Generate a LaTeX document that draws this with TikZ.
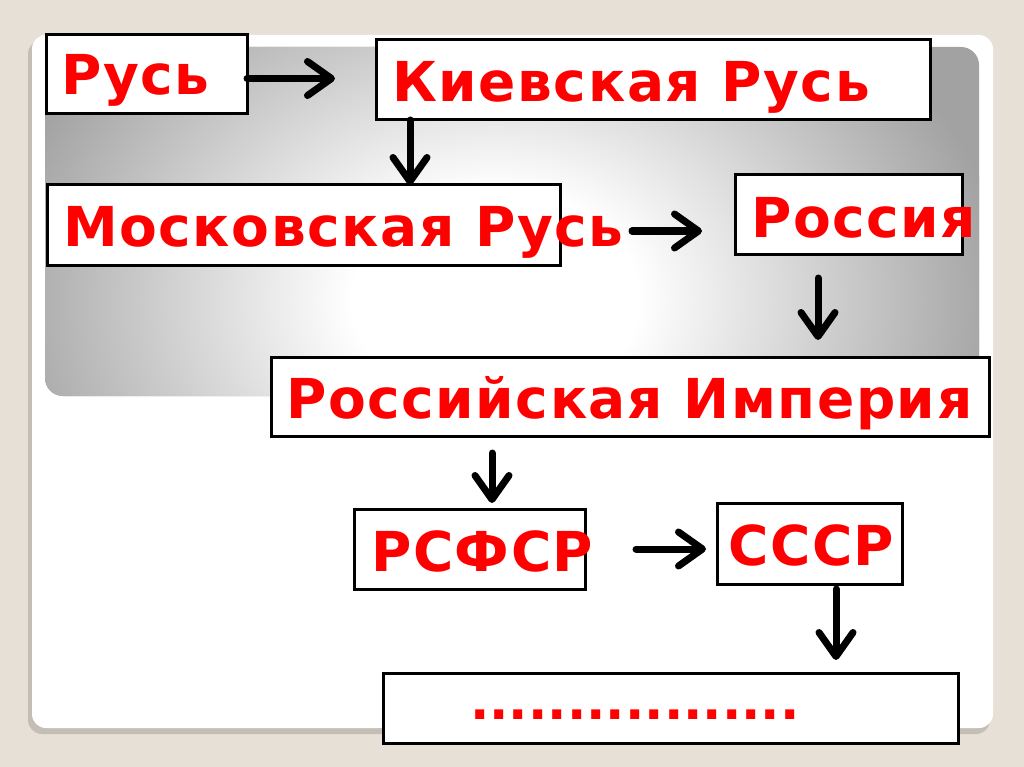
\documentclass[tikz,border=0pt]{standalone}
\usepackage{fontspec}
\setmainfont{DejaVu Sans}
\newfontfamily\lblfont[LetterSpace=2.8]{DejaVu Sans}
\usetikzlibrary{arrows.meta}

\definecolor{slidebg}{HTML}{E6E0D6}
\definecolor{slideshadow}{HTML}{C4BEB4}
\definecolor{panelgray}{HTML}{A2A2A2}
\definecolor{labelred}{HTML}{FF0000}

% heller Fleck in der Mitte, grau zum Rand
\pgfdeclareradialshading{panelglow}{\pgfpoint{0bp}{0bp}}{%
  color(0bp)=(white); color(7bp)=(white);
  color(25bp)=(panelgray); color(50bp)=(panelgray)}

\tikzset{
  box/.style={draw=black, fill=white, line width=3pt, anchor=north west,
    inner sep=0pt, outer sep=0pt},
  lbl/.style={text=labelred, font=\lblfont\fontsize{55}{60}\selectfont\bfseries,
    anchor=base west, inner sep=0pt},
  arr/.style={line width=7pt, line cap=round,
    -{Straight Barb[length=24pt,width=34pt,round]}}
}

\begin{document}
\begin{tikzpicture}[x=1pt, y=-1pt]

\useasboundingbox (0,0) rectangle (1024,767);

% ============================================================
% Folie: Hintergrund, weisse Karte, grauer Verlauf
% ============================================================
\fill[slidebg] (0,0) rectangle (1024,767);
\fill[slideshadow, rounded corners=14pt] (28,40) rectangle (990,734);
\fill[white, rounded corners=14pt] (32,35) rectangle (993,728);

\fill[panelgray, rounded corners=18pt] (45,47) rectangle (979,396);
\begin{scope}
  \clip[rounded corners=18pt] (45,47) rectangle (979,396);
  \shade[shading=panelglow] (495,300) ellipse (510pt and 390pt);
\end{scope}

% ============================================================
% Kästen
% ============================================================
\node[box, minimum width=201pt, minimum height=79pt] (rus)     at (46,35)  {};
\node[box, minimum width=554pt, minimum height=80pt] (kiev)    at (376,40) {};
\node[box, minimum width=513pt, minimum height=80pt] (mosk)    at (47,185) {};
\node[box, minimum width=227pt, minimum height=79pt] (rossia)  at (735,175) {};
\node[box, minimum width=718pt, minimum height=79pt] (imperia) at (271,357) {};
\node[box, minimum width=231pt, minimum height=80pt] (rsfsr)   at (354,509) {};
\node[box, minimum width=185pt, minimum height=81pt] (sssr)    at (717,503) {};
\node[box, minimum width=575pt, minimum height=70pt] (final)   at (383,673) {};

% ============================================================
% Beschriftungen (ragen teils über den Rahmen hinaus)
% ============================================================
\node[lbl] (t-rus)     at (61,95)   {Русь};
\node[lbl] (t-kiev)    at (392,102) {Киевская Русь};
\node[lbl] (t-mosk)    at (63,247)  {Московская Русь};
\node[lbl] (t-rossia)  at (751,237) {Россия};
\node[lbl] (t-imperia) at (286,418) {Российская Империя};
\node[lbl] (t-rsfsr)   at (371,571) {РСФСР};
\node[lbl] (t-sssr)    at (728,565) {СССР};
\node[lbl, font=\fontsize{51}{60}\selectfont\bfseries] (t-dots) at (470,719)
  {.................};

% ============================================================
% Pfeile
% ============================================================
\coordinate (kA) at (410,0);
\coordinate (rA) at (818,0);
\coordinate (iA) at (492,0);
\coordinate (sA) at (836,0);
\coordinate (mA) at (632,231);

\draw[arr, shorten >=41pt] ([yshift=-4pt]rus.east) -- ([yshift=-4pt]rus.east -| kiev.west);
\draw[arr] (kiev.south -| kA) -- (mosk.north -| kA);
\draw[arr, shorten >=33pt] (mA) -- (mA -| rossia.west);
\draw[arr, shorten <=24pt, shorten >=17pt] (rossia.south -| rA) -- (imperia.north -| rA);
\draw[arr, shorten <=17pt, shorten >=6pt] (imperia.south -| iA) -- (rsfsr.north -| iA);
\draw[arr, shorten <=51pt, shorten >=11pt] (rsfsr.east) -- (rsfsr.east -| sssr.west);
\draw[arr, shorten <=5pt, shorten >=13pt] (sssr.south -| sA) -- (final.north -| sA);

\end{tikzpicture}
\end{document}
